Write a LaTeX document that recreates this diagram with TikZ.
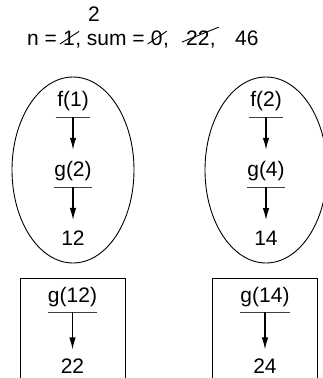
\documentclass[tikz,border=0pt]{standalone}
\usepackage{fontspec}
\setmainfont{Liberation Sans}
\usetikzlibrary{arrows.meta,shapes.geometric}
\begin{document}
\begin{tikzpicture}[x=1pt,y=-1pt,
  every node/.style={font=\fontsize{21}{25}\selectfont, inner sep=0pt},
  callnode/.style={minimum width=34pt, minimum height=32pt},
  uline/.style={draw=black!75, line width=0.9pt},
  arr/.style={line width=1.3pt, -{Latex[length=12pt,width=6.5pt]}},
  strike/.style={line width=0.9pt},
  oval/.style={draw, ellipse, line width=0.9pt, minimum width=122pt, minimum height=186pt},
  frame/.style={draw, rectangle, line width=0.9pt, minimum width=105pt, minimum height=110pt},
  piece/.style={anchor=base west}
]
\useasboundingbox (0,0) rectangle (323,378);
\clip (0,0) rectangle (323,378);

% top line
\node[piece] (p1) at (27,45) {n =};
\node[piece] (n1) at ([xshift=5.8pt]p1.base east) {1};
\node[piece] (p2) at (n1.base east) {,\kern0.28em sum =};
\node[piece] (s0) at ([xshift=5.8pt]p2.base east) {0};
\node[piece] (p3) at (s0.base east) {,};
\node[piece] (s22) at (186,45) {22};
\node[piece] (p4) at (s22.base east) {,};
\node[piece] (p5) at (235,45) {46};
\node (two) at (94,14) {2};
\draw[strike] ([xshift=-3pt,yshift=1pt]n1.base west) -- ([xshift=4pt,yshift=-1pt]n1.north east);
\draw[strike] ([xshift=-3pt,yshift=1pt]s0.base west) -- ([xshift=4pt,yshift=-1pt]s0.north east);
\draw[strike] ([xshift=-4pt,yshift=3pt]s22.base west) -- ([xshift=9pt,yshift=3pt]s22.north east);

% ellipses
\node[oval] (e1) at (73,170) {};
\node[oval] (e2) at (266,170) {};

\node[callnode] (f1) at (73,101) {f(1)};
\node[callnode] (g2) at (73,171) {g(2)};
\node (r12) at (73,238.5) {12};
\draw[uline] (f1.south west) -- (f1.south east);
\draw[uline] (g2.south west) -- (g2.south east);
\draw[arr, shorten >=5pt] (f1.south) -- (g2.north);
\draw[arr, shorten >=11pt] (g2.south) -- (r12.north);

\node[callnode] (f2) at (266,101) {f(2)};
\node[callnode] (g4) at (266,171) {g(4)};
\node (r14) at (266,238.5) {14};
\draw[uline] (f2.south west) -- (f2.south east);
\draw[uline] (g4.south west) -- (g4.south east);
\draw[arr, shorten >=5pt] (f2.south) -- (g4.north);
\draw[arr, shorten >=11pt] (g4.south) -- (r14.north);

% boxes
\node[frame] (b1) at (72.5,333) {};
\node[frame] (b2) at (265,333) {};

\node[callnode, minimum height=30pt] (g12) at (72.5,297) {g(12)};
\node (r22) at (72.5,366) {22};
\draw[uline] (g12.south west) -- (g12.south east);
\draw[arr, shorten >=9pt] (g12.south) -- (r22.north);

\node[callnode, minimum height=30pt] (g14) at (265,297) {g(14)};
\node (r24) at (265,366) {24};
\draw[uline] (g14.south west) -- (g14.south east);
\draw[arr, shorten >=9pt] (g14.south) -- (r24.north);
\end{tikzpicture}
\end{document}
